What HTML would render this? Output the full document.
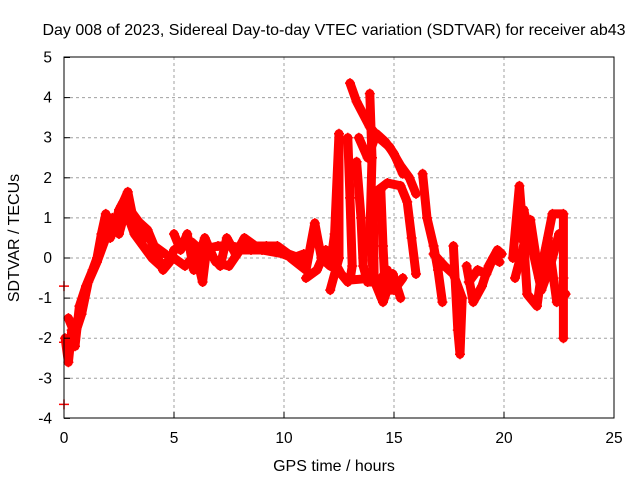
<!DOCTYPE html>
<html><head><meta charset="utf-8"><style>
body{margin:0;background:#fff}
svg{display:block;font-family:"Liberation Sans",sans-serif}
</style></head><body>
<svg id="chart" width="640" height="480" viewBox="0 0 640 480">
<text x="334" y="35" font-size="16" text-anchor="middle">Day 008 of 2023, Sidereal Day-to-day VTEC variation (SDTVAR) for receiver ab43</text>
<g id="grid"></g>
<g id="data"></g>
<rect x="64" y="57" width="550" height="361" fill="none" stroke="#000" stroke-width="1"/>
<g id="ticks"></g>
<text x="334" y="471" font-size="16" text-anchor="middle">GPS time / hours</text>
<text transform="translate(19,238) rotate(-90)" font-size="16" text-anchor="middle">SDTVAR / TECUs</text>
</svg>
<script>
const xTicks=[0,5,10,15,20,25];
const yTicks=[-4,-3,-2,-1,0,1,2,3,4,5];
const traceA=[[0.05,-2.0],[0.2,-2.6],[0.35,-1.8],[0.5,-2.2],[0.7,-1.2],[1.0,-0.7],[1.3,-0.3],[1.5,0.0],[1.7,0.6],[1.9,1.1],[2.1,0.5],[2.3,0.8],[2.5,1.2],[2.7,1.4],[2.9,1.65],[3.1,1.1],[3.3,0.8],[3.6,0.5],[3.9,0.5],[4.2,0.1],[4.5,-0.3],[4.8,-0.1],[5.0,0.2],[5.3,0.3]];
const traceA2=[[0.2,-1.5],[0.5,-1.9],[0.8,-1.4],[1.1,-0.6],[1.5,-0.1],[1.9,0.5],[2.2,1.0],[2.5,0.6],[2.8,1.2],[3.2,0.6],[3.6,0.3],[4.0,0.0],[4.4,-0.2],[5.0,0.0]];
const traceA3=[[2.4,1.0],[2.6,1.3],[2.8,1.5],[3.0,1.2],[3.4,0.9],[3.8,0.7],[4.1,0.3],[4.6,0.1]];
const traceB=[[5.0,0.6],[5.3,0.2],[5.6,0.6],[5.9,-0.3],[6.1,0.0],[6.4,0.5],[6.8,0.0],[7.1,-0.2],[7.4,0.5],[7.8,0.1],[8.2,0.5],[8.7,0.3],[9.2,0.3],[9.7,0.3],[10.2,0.1],[10.7,0.0],[11.0,-0.2]];
const traceB2=[[5.0,0.0],[5.5,-0.2],[6.0,0.1],[6.3,-0.6],[6.5,0.3],[6.9,-0.1],[7.5,-0.2],[8.0,0.2],[9.0,0.2],[10.0,0.1]];
const traceB3=[[5.8,0.4],[6.2,0.2],[7.0,0.3],[7.6,0.3],[8.5,0.2],[9.5,0.2],[10.4,0.0],[10.9,0.1]];
const traceC=[[10.3,0.0],[11.0,-0.3],[11.4,0.87],[11.7,0.0],[12.1,-0.2],[12.3,0.6],[12.5,3.1],[12.5,0.0],[12.1,-0.8]];
const traceC2=[[11.0,-0.5],[11.5,-0.3],[11.9,0.2],[12.2,0.0],[12.6,-0.4],[12.9,-0.6]];
const traceD=[[12.9,3.0],[13.0,1.5],[13.1,-0.2],[13.0,-0.55],[14.05,-0.5],[14.5,-1.1],[14.95,-0.4],[15.3,-1.0]];
const traceD2=[[13.3,2.4],[13.5,1.0],[13.6,-0.2],[13.8,-0.6],[14.3,-0.6],[14.7,-0.3]];
const traceE=[[13.0,4.36],[13.3,3.9],[13.9,3.27],[14.3,3.0],[14.8,2.77],[15.3,2.3],[15.7,2.0],[16.0,1.6]];
const traceE2=[[13.4,3.0],[13.8,2.5],[14.2,3.1],[14.6,2.9],[15.0,2.6],[15.4,2.1]];
const traceF=[[13.9,4.1],[14.0,2.5],[13.9,0.5],[14.1,-0.6],[14.05,1.6],[14.7,1.87],[15.3,1.8],[15.6,1.4],[15.8,0.5],[16.0,-0.4]];
const traceF2=[[14.4,1.7],[14.5,0.3],[14.6,-0.8],[15.0,-0.8],[15.4,-0.5]];
const traceG=[[16.3,2.1],[16.5,1.0],[16.8,0.3],[17.0,-0.3],[17.2,-1.1]];
const traceH=[[16.8,0.1],[17.3,-0.2],[17.7,-0.4],[18.1,-1.0],[18.0,-2.4],[17.9,-1.8],[17.7,0.3]];
const traceI=[[18.3,-0.2],[18.6,-1.1],[19.0,-0.7],[19.3,-0.2],[19.7,0.2],[19.9,0.1]];
const traceI2=[[18.4,-0.6],[18.8,-0.3],[19.2,-0.4],[19.5,0.0],[19.8,-0.1]];
const traceJ=[[20.4,0.0],[20.7,1.8],[20.9,0.4],[21.05,-0.9],[21.5,-1.2],[21.8,0.0],[22.2,1.1],[22.7,1.1],[22.7,-0.5],[22.7,-2.0]];
const traceK=[[20.5,-0.5],[21.2,0.95],[21.6,-0.5],[22.0,0.5],[22.4,-1.1],[22.8,-0.9]];
const traceK2=[[20.6,0.5],[20.9,1.2],[21.3,0.2],[21.7,-0.8],[22.1,-0.2],[22.5,0.6]];
const outliers=[[0.0,-0.7],[0.0,-3.65],[0.0,-2.1]];
const traces=[traceA,traceA2,traceA3,traceB,traceB2,traceB3,traceC,traceC2,traceD,traceD2,traceE,traceE2,traceF,traceF2,traceG,traceH,traceI,traceI2,traceJ,traceK,traceK2];
const NS="http://www.w3.org/2000/svg";
const X=h=>64+22*h, Y=v=>258-40.1*v;
const grid=document.getElementById('grid'),ticks=document.getElementById('ticks'),data=document.getElementById('data');
function mk(tag,attrs,parent){const e=document.createElementNS(NS,tag);for(const k in attrs)e.setAttribute(k,attrs[k]);parent.appendChild(e);return e;}
xTicks.forEach(t=>{
 if(t>0&&t<25){const g=mk('line',{x1:X(t),x2:X(t),y1:57,y2:418,stroke:'#a0a0a0','stroke-dasharray':'3,3'},grid);
 
 }
 const l=mk('text',{x:X(t),y:443,'font-size':'15.5','text-anchor':'middle'},ticks);l.textContent=t;
 
 
 mk('line',{x1:X(t),x2:X(t),y1:418,y2:412,stroke:'#000'},ticks);
});
yTicks.forEach(t=>{
 if(t>-4&&t<5){const g=mk('line',{x1:64,x2:614,y1:Y(t),y2:Y(t),stroke:'#a0a0a0','stroke-dasharray':'3,3'},grid);
 
 }
 const l=mk('text',{x:52,y:Y(t)+5,'font-size':'15.5','text-anchor':'end'},ticks);l.textContent=t;
 
 
 mk('line',{x1:64,x2:70,y1:Y(t),y2:Y(t),stroke:'#000'},ticks);
});
traces.forEach(tr=>{
 const p=mk('polyline',{points:tr.map(d=>X(d[0])+','+Y(d[1])).join(' '),fill:'none',stroke:'#ff0000','stroke-width':'9','stroke-linejoin':'round','stroke-linecap':'round'},data);
 
 
});
traces.concat([outliers]).forEach(tr=>tr.forEach(d=>{
 const x=X(d[0]),y=Y(d[1]);
 const m=mk('path',{d:`M${x-5},${y}H${x+5}M${x},${y-5}V${y+5}`,stroke:'#ff0000','stroke-width':'1.5'},data);
 
 
}));
</script>
</body></html>
